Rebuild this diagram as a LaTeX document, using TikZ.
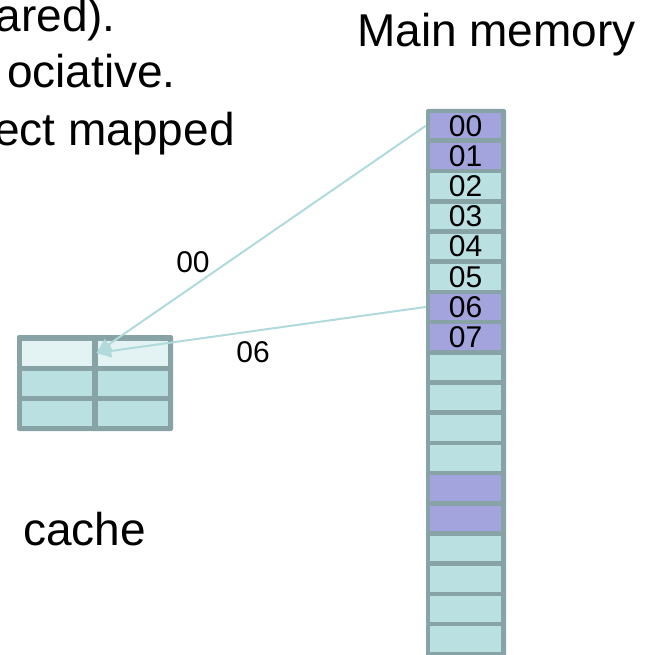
\documentclass[tikz,border=0pt]{standalone}
\usepackage{fontspec}
\setmainfont{Liberation Sans}
\usetikzlibrary{arrows.meta}

\definecolor{framecol}{RGB}{135,163,165}
\definecolor{cellcol}{RGB}{187,224,226}
\definecolor{hotcol}{RGB}{163,163,221}
\definecolor{palecol}{RGB}{227,242,243}
\definecolor{linkcol}{RGB}{176,218,220}

\begin{document}
\begin{tikzpicture}[x=1pt,y=-1pt,
  bigtext/.style={inner sep=0pt,font=\fontsize{46}{55}\selectfont},
  smalltext/.style={inner sep=0pt,font=\fontsize{30}{36}\selectfont},
  memcell/.style={draw=none,inner sep=0pt,minimum width=71pt,minimum height=25.5pt,
                  font=\fontsize{30}{36}\selectfont},
  cachecell/.style={draw=none,inner sep=0pt,minimum width=70pt,minimum height=25pt},
  link/.style={draw=linkcol,line width=2pt,-{Triangle[length=15pt,width=13pt]}}]

\useasboundingbox (0,0) rectangle (651,655);

% slide text, partly running off the left edge
\node[bigtext,anchor=base east] (l1) at (116,32) {ared).};
\node[bigtext,anchor=base east] (l2) at (176,88) {ociative.};
\node[bigtext,anchor=base east] (l3) at (235,146) {ect mapped};

\node[bigtext,anchor=base west] (mmtitle) at (357,47) {Main memory};
\node[bigtext,anchor=base west] (ctitle) at (23,545) {cache};

% main memory column
\fill[framecol,rounded corners=2pt] (426,109) rectangle (506,662);
\foreach \i/\c/\t in {0/hotcol/00,1/hotcol/01,2/cellcol/02,3/cellcol/03,
                      4/cellcol/04,5/cellcol/05,6/hotcol/06,7/hotcol/07,
                      8/cellcol/,9/cellcol/,10/cellcol/,11/cellcol/,
                      12/hotcol/,13/hotcol/,14/cellcol/,15/cellcol/,
                      16/cellcol/,17/cellcol/}{
  \node[memcell,fill=\c] (m\i) at (465.5,{125.75+30.2*\i}) {\t};
}

% cache table
\fill[framecol,rounded corners=2pt] (17,335) rectangle (173,431);
\node[cachecell,fill=palecol] (c11) at (57,353) {};
\node[cachecell,fill=palecol] (c12) at (132.5,353) {};
\node[cachecell,fill=cellcol] (c21) at (57,383.5) {};
\node[cachecell,fill=cellcol] (c22) at (132.5,383.5) {};
\node[cachecell,fill=cellcol] (c31) at (57,413.5) {};
\node[cachecell,fill=cellcol] (c32) at (132.5,413.5) {};

% mapping of memory blocks into the cache
\draw[link] ([xshift=-4pt]m0.west) -- ([xshift=-1pt]c12.west);
\draw[link] ([xshift=-4pt]m6.west) -- ([xshift=-1pt]c12.west);

\node[smalltext] (lab00) at (193,262.5) {00};
\node[smalltext] (lab06) at (253,352.5) {06};

\end{tikzpicture}
\end{document}
